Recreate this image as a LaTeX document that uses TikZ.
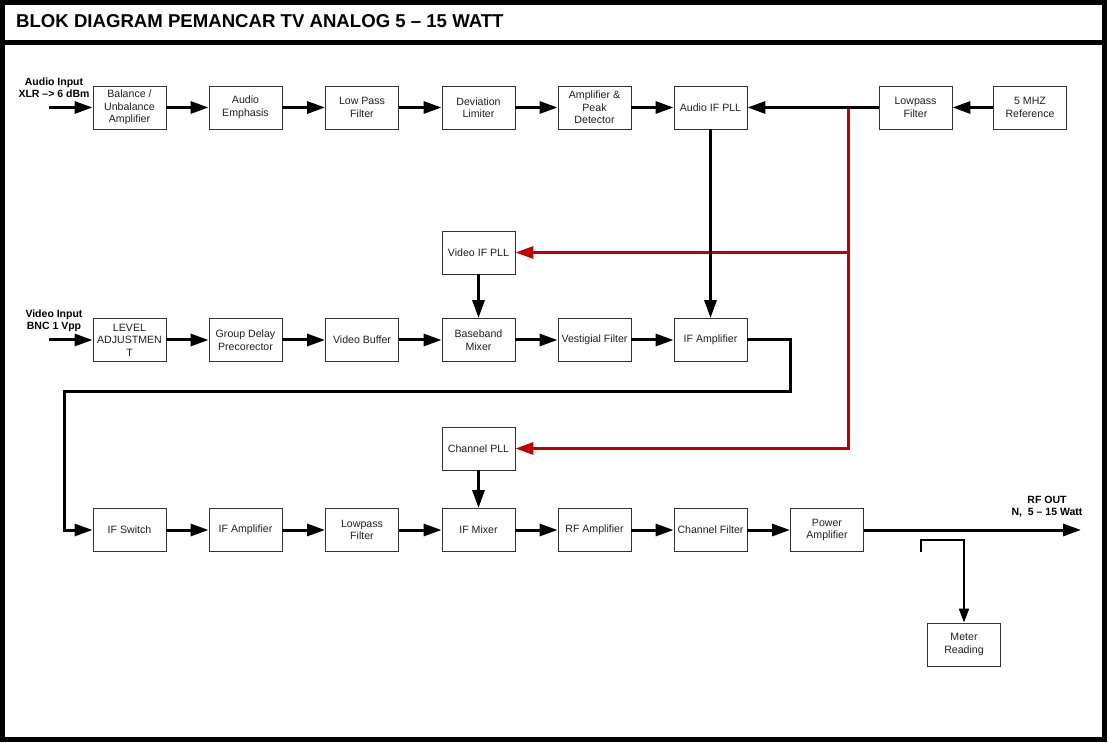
\documentclass[tikz,border=0pt]{standalone}
\usepackage{fontspec}
\setmainfont{Liberation Sans}
\usetikzlibrary{arrows.meta}
\definecolor{pllred}{RGB}{192,0,0}
\begin{document}
\begin{tikzpicture}[x=1pt,y=-1pt,
  blk/.style={draw=black!80, line width=0.9pt, minimum width=73pt, minimum height=43pt,
    inner sep=1pt, align=center, text=black!88, font=\fontsize{10.6}{12.5}\selectfont},
  conn/.style={line width=3pt, -{Triangle[length=18pt,width=12pt]}},
  redconn/.style={conn, draw=pllred, color=pllred},
  thinconn/.style={line width=2pt, -{Triangle[length=14pt,width=10pt]}},
  lbl/.style={align=center, inner sep=0pt, font=\bfseries\fontsize{10.5}{12}\selectfont}
]
\useasboundingbox (0,0) rectangle (1109,743);
% frame
\draw[line width=5pt] (2.5,2.5) rectangle (1104,739);
\draw[line width=5pt] (2.5,42.5) -- (1104,42.5);
\node[anchor=base west, inner sep=0pt, font=\bfseries\fontsize{18.6}{22}\selectfont] (title) at (16,28) {BLOK DIAGRAM PEMANCAR TV ANALOG 5 – 15 WATT};

% row 1
\node[blk] (bal) at (129.5,107.5) {Balance /\\Unbalance\\Amplifier};
\node[blk] (emph) at (245.5,107.5) {Audio\\Emphasis};
\node[blk] (lpfa) at (362,107.5) {Low Pass\\Filter};
\node[blk] (dev) at (478.5,107.5) {Deviation\\Limiter};
\node[blk] (peak) at (594.5,107.5) {Amplifier \&\\Peak\\Detector};
\node[blk] (aifpll) at (710.5,107.5) {Audio IF PLL};
\node[blk] (lpfb) at (915.5,107.5) {Lowpass\\Filter};
\node[blk] (ref) at (1030,107.5) {5 MHZ\\Reference};
% PLLs
\node[blk] (vifpll) at (478.5,252.5) {Video IF PLL};
\node[blk] (chpll) at (478.5,448.5) {Channel PLL};
% row 3
\node[blk] (lvl) at (129.5,340) {LEVEL\\ADJUSTMEN\\T};
\node[blk] (gdp) at (245.5,340) {Group Delay\\Precorector};
\node[blk] (vbuf) at (362,340) {Video Buffer};
\node[blk] (bbm) at (478.5,340) {Baseband\\Mixer};
\node[blk] (vest) at (594.5,340) {Vestigial Filter};
\node[blk] (ifampa) at (710.5,340) {IF Amplifier};
% row 4
\node[blk] (ifsw) at (129.5,530) {IF Switch};
\node[blk] (ifampb) at (245.5,530) {IF Amplifier};
\node[blk] (lpfc) at (362,530) {Lowpass\\Filter};
\node[blk] (ifmix) at (478.5,530) {IF Mixer};
\node[blk] (rfamp) at (594.5,530) {RF Amplifier};
\node[blk] (chf) at (710.5,530) {Channel Filter};
\node[blk] (pa) at (827,530) {Power\\Amplifier};
\node[blk] (meter) at (964,644.5) {Meter\\Reading};

% labels
\node[lbl] (ainlbl) at (54,88) {Audio Input\\XLR –> 6 dBm};
\node[lbl] (vinlbl) at (54,321) {Video Input\\BNC 1 Vpp};
\node[lbl] (rflbl) at (1047,507) {RF OUT\\N,\ \ 5 – 15 Watt};

% coordinates
\coordinate (ain) at (49,107.5);
\coordinate (vin) at (49,340);
\coordinate (junc) at (848,107.5);
\coordinate (jv) at (848,252.5);
\coordinate (lpA) at (790,392);
\coordinate (lpB) at (64,392);
\coordinate (rfout) at (1081,530);
\coordinate (cpA) at (921,552);
\coordinate (cpB) at (964,540);

% red reference lines
\draw[redconn] (junc) |- (chpll);
\draw[redconn] (jv) -- (vifpll);

% row 1 arrows
\draw[conn] (ain) -- (bal);
\draw[conn] (bal) -- (emph);
\draw[conn] (emph) -- (lpfa);
\draw[conn] (lpfa) -- (dev);
\draw[conn] (dev) -- (peak);
\draw[conn] (peak) -- (aifpll);
\draw[conn] (ref) -- (lpfb);
\draw[conn] (lpfb) -- (aifpll);
% verticals
\draw[conn] (aifpll) -- (ifampa);
\draw[conn] (vifpll) -- (bbm);
\draw[conn] (chpll) -- (ifmix);
% row 3 arrows
\draw[conn] (vin) -- (lvl);
\draw[conn] (lvl) -- (gdp);
\draw[conn] (gdp) -- (vbuf);
\draw[conn] (vbuf) -- (bbm);
\draw[conn] (bbm) -- (vest);
\draw[conn] (vest) -- (ifampa);
% loop
\draw[conn] (ifampa.east) -| (lpA) -- (lpB) |- (ifsw.west);
% row 4 arrows
\draw[conn] (ifsw) -- (ifampb);
\draw[conn] (ifampb) -- (lpfc);
\draw[conn] (lpfc) -- (ifmix);
\draw[conn] (ifmix) -- (rfamp);
\draw[conn] (rfamp) -- (chf);
\draw[conn] (chf) -- (pa);
\draw[conn] (pa) -- (rfout);
% coupler
\draw[thinconn] (cpA) |- (cpB) -- (meter);
\end{tikzpicture}
\end{document}
